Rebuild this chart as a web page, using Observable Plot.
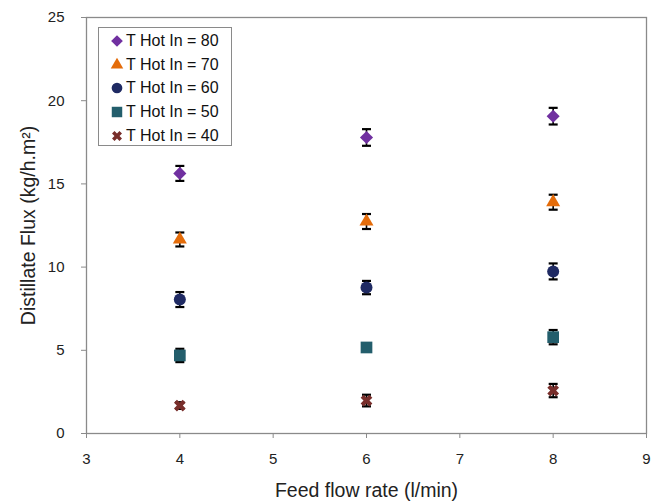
<!DOCTYPE html>
<html>
<head>
<meta charset="utf-8">
<script src="https://cdn.jsdelivr.net/npm/d3@7"></script>
<script src="https://cdn.jsdelivr.net/npm/@observablehq/plot@0.6"></script>
<style>
  html, body { margin: 0; padding: 0; background: #fff; }
  #wrap { position: relative; width: 666px; height: 504px; font-family: "Liberation Sans", Arial, sans-serif; }
  #wrap svg.plot { display: block; }
  #legend { position: absolute; left: 98px; top: 27px; width: 134px; height: 119px; border: 1px solid #8a8a8a; background: #fff; box-sizing: border-box; }
  .lrow { position: absolute; left: 10px; height: 20px; display: flex; align-items: center; font-size: 16px; color: #111; white-space: nowrap; }
  .lrow svg { margin-right: 1px; }
</style>
</head>
<body>
<div id="wrap"></div>
<script>
// ---- data ----
const flowRates = [4, 6, 8];
const seriesNames = ["T Hot In = 80", "T Hot In = 70", "T Hot In = 60", "T Hot In = 50", "T Hot In = 40"];
const flux80 = [15.63, 17.79, 19.07];
const flux70 = [11.66, 12.74, 13.90];
const flux60 = [8.05, 8.77, 9.74];
const flux50 = [4.69, 5.17, 5.79];
const flux40 = [1.68, 1.98, 2.58];
const err80 = [0.45, 0.50, 0.50];
const err70 = [0.42, 0.45, 0.45];
const err60 = [0.45, 0.40, 0.48];
const err50 = [0.40, 0.20, 0.43];
const err40 = [0.20, 0.35, 0.40];
const xTicks = [3, 4, 5, 6, 7, 8, 9];
const yTicks = [0, 5, 10, 15, 20, 25];
const seriesColors = ["#7030A0", "#E46C0A", "#1F2A63", "#235E6C", "#782E2B"];

// ---- symbols ----
const xSymbol = {
  draw(ctx, size) {
    const a = 6.2, t = 2.1;
    const pts = [[-t,-a],[t,-a],[t,-t],[a,-t],[a,t],[t,t],[t,a],[-t,a],[-t,t],[-a,t],[-a,-t],[-t,-t]];
    const s = Math.SQRT1_2;
    pts.forEach(([x, y], i) => {
      const px = (x - y) * s, py = (x + y) * s;
      if (i === 0) ctx.moveTo(px, py); else ctx.lineTo(px, py);
    });
    ctx.closePath();
  }
};
const capSymbol = {
  draw(ctx, size) { ctx.moveTo(-4.5, 0); ctx.lineTo(4.5, 0); }
};
const symbolRange = ["diamond2", "triangle", "circle", "square", xSymbol];
const markerR = [5.9, 5.2, 6, 6.6, 6];

const fluxes = [flux80, flux70, flux60, flux50, flux40];
const errs = [err80, err70, err60, err50, err40];
const data = [];
seriesNames.forEach((name, si) => {
  flowRates.forEach((x, i) => {
    data.push({series: name, x, y: fluxes[si][i], e: errs[si][i], r: markerR[si]});
  });
});

const axisColor = "#8a8a8a";
const chart = Plot.plot({
  width: 666,
  height: 504,
  marginLeft: 86,
  marginRight: 20,
  marginTop: 17,
  marginBottom: 71,
  style: {fontFamily: "'Liberation Sans', Arial, sans-serif", color: "#222", background: "#fff"},
  x: {domain: [3, 9]},
  y: {domain: [0, 25]},
  color: {domain: seriesNames, range: seriesColors},
  symbol: {domain: seriesNames, range: symbolRange},
  r: {type: "identity"},
  marks: [
    Plot.frame({stroke: axisColor, strokeWidth: 1.3}),
    Plot.axisX({ticks: xTicks, tickSize: 5, tickPadding: 15, fontSize: 15, stroke: axisColor, fill: "#222", label: null, tickFormat: d => String(d)}),
    Plot.axisY({ticks: yTicks, tickSize: 5, tickPadding: 17, fontSize: 15, stroke: axisColor, fill: "#222", label: null, tickFormat: d => String(d)}),
    Plot.text(["Feed flow rate (l/min)"], {frameAnchor: "bottom", textAnchor: "middle", lineAnchor: "middle", dy: 57, fontSize: 19.5, fill: "#222"}),
    Plot.text(["Distillate Flux (kg/h.m²)"], {frameAnchor: "left", textAnchor: "middle", lineAnchor: "middle", dx: -58, rotate: -90, fontSize: 19.5, fill: "#222"}),
    Plot.ruleX(data, {x: "x", y1: d => d.y - d.e, y2: d => d.y + d.e, stroke: "#000", strokeWidth: 1.6}),
    Plot.dot(data, {x: "x", y: d => d.y + d.e, symbol: () => capSymbol, stroke: "#000", strokeWidth: 2.2, r: 3}),
    Plot.dot(data, {x: "x", y: d => d.y - d.e, symbol: () => capSymbol, stroke: "#000", strokeWidth: 2.2, r: 3}),
    Plot.dot(data, {x: "x", y: "y", symbol: "series", fill: "series", r: "r", stroke: "none"})
  ]
});
chart.classList.add("plot");
document.getElementById("wrap").appendChild(chart);

// ---- legend (HTML overlay inside plot area) ----
const legend = document.createElement("div");
legend.id = "legend";
const rowTops = [13, 37, 60, 84, 108];
seriesNames.forEach((name, i) => {
  const row = document.createElement("div");
  row.className = "lrow";
  row.style.top = (rowTops[i] - 10) + "px";
  const sym = symbolRange[i];
  const d3sym = typeof sym === "string"
    ? {diamond2: d3.symbolDiamond2, triangle: d3.symbolTriangle, circle: d3.symbolCircle, square: d3.symbolSquare}[sym]
    : sym;
  const size = Math.PI * markerR[i] * markerR[i] * 0.8;
  const svg = d3.create("svg").attr("width", 16).attr("height", 16).attr("viewBox", "-8 -8 16 16");
  svg.append("path").attr("d", d3.symbol(d3sym, size)()).attr("fill", seriesColors[i])
    .attr("transform", typeof sym === "string" ? null : "scale(0.85)");
  row.appendChild(svg.node());
  const span = document.createElement("span");
  span.textContent = name;
  row.appendChild(span);
  legend.appendChild(row);
});
document.getElementById("wrap").appendChild(legend);
</script>
</body>
</html>
